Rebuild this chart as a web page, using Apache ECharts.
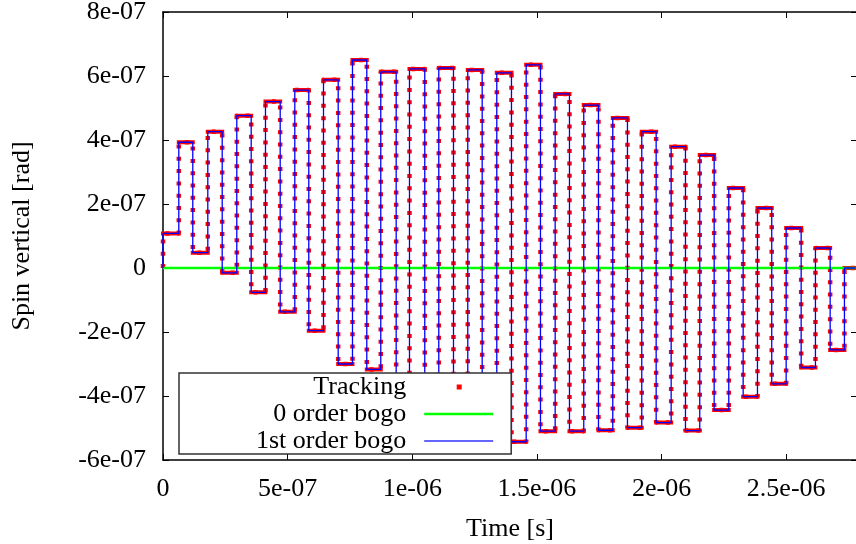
<!DOCTYPE html>
<html>
<head>
<meta charset="utf-8">
<script src="https://cdn.jsdelivr.net/npm/echarts@6/dist/echarts.min.js"></script>
<style>
  html, body { margin: 0; padding: 0; background: #fff; }
  #chart { width: 856px; height: 544px; }
</style>
</head>
<body>
<div id="chart"></div>
<script>
// Step boundaries (s): value i holds from stepTimes[i] to stepTimes[i+1]
const stepTimes = [
  0, 0, 6.34e-8, 1.195e-7, 1.797e-7, 2.375e-7, 2.96e-7, 3.538e-7, 4.111e-7, 4.701e-7,
  5.287e-7, 5.848e-7, 6.438e-7, 7.028e-7, 7.601e-7, 8.175e-7, 8.736e-7, 9.354e-7, 9.888e-7, 1.0501e-6,
  1.1063e-6, 1.1653e-6, 1.2226e-6, 1.2804e-6, 1.339e-6, 1.3979e-6, 1.4569e-6, 1.5142e-6, 1.5732e-6, 1.6306e-6,
  1.6879e-6, 1.7469e-6, 1.8043e-6, 1.8632e-6, 1.9206e-6, 1.9783e-6, 2.0385e-6, 2.0959e-6, 2.1532e-6, 2.211e-6,
  2.2696e-6, 2.3273e-6, 2.3847e-6, 2.442e-6, 2.4998e-6, 2.56e-6, 2.6173e-6, 2.6763e-6, 2.7336e-6, 2.7778e-6
];
// Tracking spin vertical (rad)
const trackingValues = [
  0, 1.08e-7, 3.93e-7, 0.48e-7, 4.26e-7, -0.15e-7, 4.76e-7, -0.76e-7, 5.2e-7, -1.37e-7,
  5.56e-7, -1.96e-7, 5.88e-7, -3.0e-7, 6.5e-7, -3.17e-7, 6.13e-7, -3.9e-7, 6.22e-7, -4.5e-7,
  6.25e-7, -5.0e-7, 6.19e-7, -5.3e-7, 6.1e-7, -5.43e-7, 6.35e-7, -5.1e-7, 5.44e-7, -5.1e-7,
  5.09e-7, -5.07e-7, 4.69e-7, -4.99e-7, 4.26e-7, -4.83e-7, 3.79e-7, -5.08e-7, 3.53e-7, -4.44e-7,
  2.5e-7, -4.02e-7, 1.875e-7, -3.62e-7, 1.25e-7, -3.11e-7, 0.625e-7, -2.56e-7, 0
];
// 1st order bogo (rad) - coincides with tracking
const bogo1Values = [
  0, 1.08e-7, 3.93e-7, 0.48e-7, 4.26e-7, -0.15e-7, 4.76e-7, -0.76e-7, 5.2e-7, -1.37e-7,
  5.56e-7, -1.96e-7, 5.88e-7, -3.0e-7, 6.5e-7, -3.17e-7, 6.13e-7, -3.9e-7, 6.22e-7, -4.5e-7,
  6.25e-7, -5.0e-7, 6.19e-7, -5.3e-7, 6.1e-7, -5.43e-7, 6.35e-7, -5.1e-7, 5.44e-7, -5.1e-7,
  5.09e-7, -5.07e-7, 4.69e-7, -4.99e-7, 4.26e-7, -4.83e-7, 3.79e-7, -5.08e-7, 3.53e-7, -4.44e-7,
  2.5e-7, -4.02e-7, 1.875e-7, -3.62e-7, 1.25e-7, -3.11e-7, 0.625e-7, -2.56e-7, 0
];
// 0 order bogo (rad)
const bogo0Times = [0, 2.7778e-6];
const bogo0Values = [0, 0];

const seriesNames = ['Tracking', '0 order bogo', '1st order bogo'];
const xTickInterval = 5e-7;
const yTickInterval = 2e-7;

function stepData(times, vals) {
  const d = vals.map((v, i) => [times[i], v]);
  d.push([times[times.length - 1], vals[vals.length - 1]]);
  return d;
}
function plateauData(times, vals) {
  const d = [];
  vals.forEach((v, i) => {
    d.push([times[i], v]);
    d.push([times[i + 1], v]);
    d.push([times[i + 1], '-']);
  });
  return d;
}
function gnuFmt(v) {
  if (Math.abs(v) < 1e-15) return '0';
  const s = Number(v.toPrecision(6)).toExponential();
  return s.replace(/e([+-])(\d+)$/, (m, sg, d) => 'e' + sg + (d.length < 2 ? '0' + d : d));
}

const FONT = 'Liberation Serif';
function axisCommon() {
  return {
    axisLine: { show: true, onZero: false, lineStyle: { color: '#000', width: 1.5 } },
    axisTick: { show: true, inside: true, length: 6, lineStyle: { color: '#000', width: 1 } },
    splitLine: { show: false }
  };
}

const chart = echarts.init(document.getElementById('chart'), null, { renderer: 'canvas' });
chart.setOption({
  animation: false,
  backgroundColor: '#fff',
  grid: { left: 163, right: -1, top: 12, bottom: 84, containLabel: false, outerBoundsMode: 'none' },
  xAxis: [
    Object.assign({
      type: 'value', position: 'bottom', min: 0, max: 2.784e-6, interval: xTickInterval,
      name: 'Time [s]', nameLocation: 'middle', nameGap: 56,
      nameTextStyle: { fontFamily: FONT, fontSize: 26, color: '#000' },
      axisLabel: { fontFamily: FONT, fontSize: 26, color: '#000', margin: 16, showMaxLabel: false, formatter: gnuFmt }
    }, axisCommon()),
    Object.assign({
      type: 'value', position: 'top', min: 0, max: 2.784e-6, interval: xTickInterval,
      axisLabel: { show: false }
    }, axisCommon())
  ],
  yAxis: [
    Object.assign({
      type: 'value', position: 'left', min: -6e-7, max: 8e-7, interval: yTickInterval,
      name: 'Spin vertical [rad]', nameLocation: 'middle', nameGap: 128, nameRotate: 90,
      nameTextStyle: { fontFamily: FONT, fontSize: 26, color: '#000' },
      axisLabel: { fontFamily: FONT, fontSize: 26, color: '#000', margin: 17, formatter: gnuFmt }
    }, axisCommon()),
    Object.assign({
      type: 'value', position: 'right', min: -6e-7, max: 8e-7, interval: yTickInterval,
      axisLabel: { show: false }
    }, axisCommon())
  ],
  legend: {
    orient: 'vertical', align: 'right', left: 179, top: 373,
    padding: [1, 18, 0, 77],
    itemWidth: 82, itemHeight: 14, itemGap: 1,
    backgroundColor: '#fff', borderColor: '#333', borderWidth: 1.5, borderRadius: 0,
    selectedMode: false,
    textStyle: { fontFamily: FONT, fontSize: 26, color: '#000' },
    data: [
      { name: seriesNames[0], icon: 'path://M0,0M82,14M45.5,4.5h5v5h-5z', itemStyle: { color: '#ff0000', borderWidth: 0 } },
      { name: seriesNames[1], icon: 'path://M0,0M82,14M13,5.75H82V8.25H13Z', itemStyle: { color: '#00ff00', borderWidth: 0 } },
      { name: seriesNames[2], icon: 'path://M0,0M82,14M13,6.25H82V7.75H13Z', itemStyle: { color: '#3030ff', borderWidth: 0 } }
    ]
  },
  series: [
    {
      name: seriesNames[0], type: 'line', step: 'end', symbol: 'none', showSymbol: false,
      color: '#ff0000', itemStyle: { color: '#ff0000' },
      lineStyle: { color: '#ff0000', width: 4.5, type: [4, 8.3] },
      data: stepData(stepTimes, trackingValues), z: 2
    },
    {
      name: seriesNames[0], type: 'line', symbol: 'none', showSymbol: false, connectNulls: false,
      color: '#ff0000', itemStyle: { color: '#ff0000' },
      lineStyle: { color: '#ff0000', width: 4, cap: 'square' },
      data: plateauData(stepTimes, trackingValues), z: 2
    },
    {
      name: seriesNames[1], type: 'line', symbol: 'none', showSymbol: false,
      color: '#00ff00', itemStyle: { color: '#00ff00' },
      lineStyle: { color: '#00ff00', width: 2.5 },
      data: bogo0Times.map((t, i) => [t, bogo0Values[i]]), z: 2
    },
    {
      name: seriesNames[2], type: 'line', step: 'end', symbol: 'none', showSymbol: false,
      color: '#2020ff', itemStyle: { color: '#2020ff' },
      lineStyle: { color: '#0000ff', width: 1.3 },
      data: stepData(stepTimes, bogo1Values), z: 2
    }
  ]
});
</script>
</body>
</html>
